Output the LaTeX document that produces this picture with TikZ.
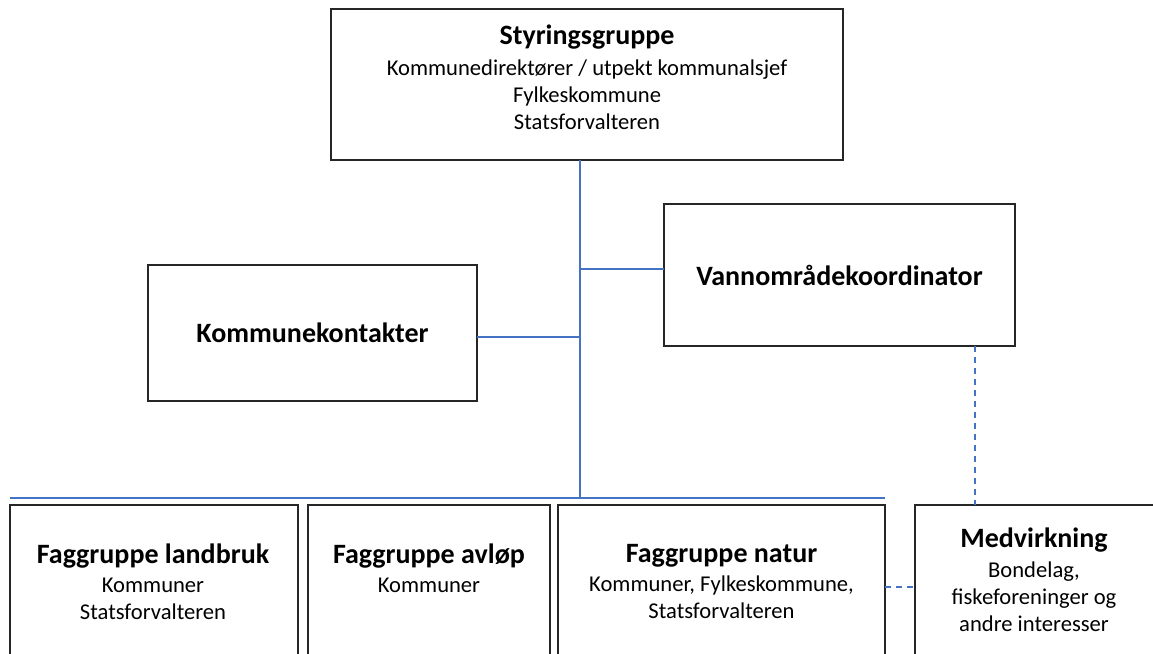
\documentclass[tikz,border=0pt]{standalone}
\usepackage{fontspec}
\setmainfont{Carlito}
\definecolor{linkblue}{HTML}{4472C4}
\definecolor{boxline}{HTML}{262626}
\newcommand{\ttl}[1]{{\fontsize{28}{33}\selectfont\bfseries #1}}
\begin{document}
\begin{tikzpicture}[x=1pt,y=-1pt,
  box/.style={draw=boxline,line width=1.6pt,anchor=north west,inner sep=0pt,outer sep=0pt,fill=white},
  txt/.style={align=center,anchor=north,inner sep=0pt,font=\fontsize{22.6}{27}\selectfont},
  link/.style={draw=linkblue,line width=1.8pt},
  dlink/.style={draw=linkblue,line width=1.4pt,dash pattern=on 6pt off 5pt}]
\useasboundingbox (0,0) rectangle (1153,653);
\clip (0,0) rectangle (1153,653);
% boxes
\node[box,minimum width=512pt,minimum height=151pt] (S) at (331,9) {};
\node[box,minimum width=351pt,minimum height=142pt,font=\fontsize{28}{33}\selectfont\bfseries] (V) at (664,204) {Vannområdekoordinator};
\node[box,minimum width=329pt,minimum height=136pt,font=\fontsize{28}{33}\selectfont\bfseries] (K) at (148,265) {Kommunekontakter};
\node[box,minimum width=288pt,minimum height=160pt] (L) at (10,505) {};
\node[box,minimum width=242pt,minimum height=160pt] (A) at (308,505) {};
\node[box,minimum width=327pt,minimum height=160pt] (N) at (558,505) {};
\node[box,minimum width=250pt,minimum height=160pt] (M) at (915,505) {};
% texts
\node[txt] (tS) at (587,25) {\ttl{Styringsgruppe}\\[4pt]Kommunedirektører / utpekt kommunalsjef\\Fylkeskommune\\Statsforvalteren};
\node[txt] (tL) at (153,544) {\ttl{Faggruppe landbruk}\\[2pt]Kommuner\\Statsforvalteren};
\node[txt] (tA) at (429,544) {\ttl{Faggruppe avløp}\\[2pt]Kommuner};
\node[txt] (tN) at (721.5,544) {\ttl{Faggruppe natur}\\[2pt]Kommuner, Fylkeskommune,\\Statsforvalteren};
\node[txt] (tM) at (1034,528) {\ttl{Medvirkning}\\[3pt]Bondelag,\\fiskeforeninger og\\andre interesser};
% connectors
\coordinate (j1) at (580,269);
\coordinate (j2) at (580,337);
\coordinate (j3) at (580,498);
\coordinate (bl) at (10,498);
\coordinate (br) at (885,498);
\draw[link] (S.south -| j1) -- (j3);
\draw[link] (j1) -- (j1 -| V.west);
\draw[link] (K.east |- j2) -- (j2);
\draw[link] (bl) -- (br);
\coordinate (dv) at (975,0);
\draw[dlink] (dv |- V.south) -- (dv |- M.north);
\coordinate (dh) at (0,587);
\draw[dlink] (N.east |- dh) -- (M.west |- dh);
\end{tikzpicture}
\end{document}
